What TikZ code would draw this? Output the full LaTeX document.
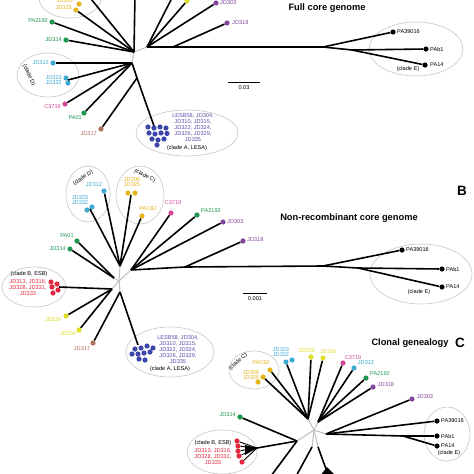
\documentclass[tikz,border=0pt]{standalone}
\usepackage{fontspec}
\setmainfont{Liberation Sans}
\definecolor{cgreen}{RGB}{30,150,80}
\definecolor{ccyan}{RGB}{60,170,210}
\definecolor{cgold}{RGB}{230,180,30}
\definecolor{clemon}{RGB}{222,222,40}
\definecolor{cpink}{RGB}{210,70,150}
\definecolor{cpurple}{RGB}{130,70,160}
\definecolor{cblue}{RGB}{60,70,170}
\definecolor{cbluet}{RGB}{90,80,170}
\definecolor{cred}{RGB}{225,40,60}
\definecolor{cbrown}{RGB}{175,110,95}
\begin{document}
\begin{tikzpicture}[x=1pt,y=-1pt,
 br/.style={line width=1.6pt,black},
 gr/.style={line width=1pt,black!25},
 dot/.style={circle,inner sep=0,minimum size=5.2pt},
 ell/.style={draw=black!22,line width=0.6pt},
 lab/.style={inner sep=0,font=\fontsize{5.6}{6}\selectfont},
 ttl/.style={inner sep=0,font=\fontsize{9.3}{10}\selectfont\bfseries},
 big/.style={inner sep=0,font=\fontsize{13.5}{14}\selectfont\bfseries},
]
\clip (0,0) rectangle (474,474);
\useasboundingbox (0,0) rectangle (474,474);
\fill[white] (0,0) rectangle (474,474);

%================ PANEL A ================
\draw[ell] (70,-2) ellipse [x radius=31,y radius=20];
\draw[ell] (48,75) ellipse [x radius=31,y radius=22];
\draw[ell] (187,133) ellipse [x radius=51,y radius=23];
\draw[ell] (416,49) ellipse [x radius=47,y radius=27];

\coordinate (a1) at (134,52);
\coordinate (a2) at (132,63);
\coordinate (a3) at (147,47);
\coordinate (a4) at (137,78);
\coordinate (aT1) at (135,-6);
\coordinate (aT2) at (87,-6);
\coordinate (aT3) at (174,-6);
\coordinate (aJ) at (173,47);
\coordinate (aE) at (323,47);
\coordinate (aE2) at (352,50);
\coordinate (aDm) at (68,80);
\coordinate (aA) at (154,126);

\node[dot,fill=cgold] (A-JD306) at (79,4) {};
\node[dot,fill=cgold] (A-JD325) at (76,10) {};
\node[dot,fill=cgreen] (A-PA2192) at (52,22) {};
\node[dot,fill=cgreen] (A-JD314) at (66,40) {};
\node[dot,fill=ccyan] (A-JD312) at (53,63) {};
\node[dot,fill=ccyan] (A-JD323) at (66,78) {};
\node[dot,fill=ccyan] (A-JD332) at (68,83) {};
\node[dot,fill=cpink] (A-C3719) at (65,104) {};
\node[dot,fill=cgreen] (A-PA01) at (84,113) {};
\node[dot,fill=cbrown] (A-JD317) at (101,129) {};
\node[dot,fill=clemon] (A-JD320) at (187,1) {};
\node[dot,fill=cpurple] (A-JD303) at (216,3) {};
\node[dot,fill=cpurple] (A-JD318) at (227,23) {};
\node[dot,fill=black] (A-PA39016) at (393,32) {};
\node[dot,fill=black] (A-PAb1) at (426,49) {};
\node[dot,fill=black] (A-PA14) at (425,65) {};

\draw[gr] (a1) -- (a2);
\draw[gr] (a1) -- (a3);
\draw[br] (a1) -- (aT1);
\draw[br] (a1) -- (aT2);
\draw[br] (A-JD325) -- (a1);
\draw[br] (A-PA2192) -- (a1);
\draw[br] (A-JD314) -- (a1);
\draw[br] (A-JD312) -- (a2);
\draw[br] (aDm) -- (a2);
\draw[br] (A-C3719) -- (a2);
\draw[br] (A-PA01) -- (a2);
\draw[br] (a2) -- (a4) -- (aA);
\draw[br] (A-JD317) -- (a4);
\draw[br] (a3) -- (aT3);
\draw[br] (a3) -- (A-JD320);
\draw[br] (a3) -- (A-JD303);
\draw[br] (a3) -- (aJ) -- (aE);
\draw[br] (aJ) -- (A-JD318);
\draw[br] (aE) -- (A-PA39016);
\draw[br] (aE) -- (aE2) -- (A-PAb1);
\draw[br] (aE2) -- (A-PA14);

\foreach \p/\q in {0/0,6/1,12/0,18/1,1/6,7/7,13/6,19/6.5,4/12,10/13,16/12,9/18}{
  \fill[cblue] (148+\p,127+\q) circle (2.6);}

\node[lab,text=cgold,anchor=east] (A-l306) at (73,1) {JD306};
\node[lab,text=cgold,anchor=east] (A-l325) at (72,8) {JD325};
\node[lab,text=cgreen,anchor=east] (A-l2192) at (48,21) {PA2192};
\node[lab,text=cgreen,anchor=east] (A-l314) at (62,40) {JD314};
\node[lab,text=ccyan,anchor=east] (A-l312) at (49,63) {JD312};
\node[lab,text=ccyan,anchor=east] (A-l323) at (62,78) {JD323};
\node[lab,text=ccyan,anchor=east] (A-l332) at (62,83) {JD332};
\node[lab,text=cpink,anchor=east] (A-l3719) at (61,107) {C3719};
\node[lab,text=cgreen,anchor=east] (A-l01) at (82,118) {PA01};
\node[lab,text=cbrown,anchor=east] (A-l317) at (97,134) {JD317};
\node[lab,text=cpurple,anchor=west] (A-l303) at (220,3) {JD303};
\node[lab,text=cpurple,anchor=west] (A-l318) at (232,23) {JD318};
\node[lab,anchor=west] (A-l39016) at (397,32) {PA39016};
\node[lab,anchor=west] (A-lPAb1) at (430,49) {PAb1};
\node[lab,anchor=west] (A-lPA14) at (430,65) {PA14};
\node[lab] (A-cE) at (408,69) {(clade E)};
\node[lab,rotate=-65] (A-cD) at (29,75) {(clade D)};
\node[lab,text=cbluet,align=center] (A-cAl) at (193,128) {LESB58, JD304,\\JD310, JD315,\\JD322, JD324,\\JD326, JD329,\\JD335};
\node[lab] (A-cA) at (187,148) {(clade A, LESA)};
\node[ttl] (A-t) at (327,8) {Full core genome};
\coordinate (sA1) at (228,82);
\coordinate (sA2) at (260,82);
\draw[line width=0.8pt] (sA1) -- (sA2);
\node[lab] (A-s) at (244,88) {0.03};

%================ PANEL B ================
\node[big] (B-lab) at (462,191) {B};
\node[ttl] (B-t) at (349,218) {Non-recombinant core genome};
\draw[ell] (88,194) ellipse [x radius=22,y radius=28];
\draw[ell] (140,195) ellipse [x radius=24,y radius=29];
\draw[ell] (34,287) ellipse [x radius=32,y radius=20];
\draw[ell] (170,352) ellipse [x radius=44,y radius=25];
\draw[ell] (421,274) ellipse [x radius=51,y radius=30];

\coordinate (b0) at (119,281);
\coordinate (b1) at (131,270);
\coordinate (b2) at (120,266);
\coordinate (b3) at (114,278);
\coordinate (b4) at (112,289);
\coordinate (b5) at (120,292);
\coordinate (bJ) at (185,267);
\coordinate (bE) at (323,266);
\coordinate (bE2) at (358,268);
\coordinate (bDm) at (90,209);
\coordinate (bCm) at (131,195);
\coordinate (bBm) at (59,287);
\coordinate (bA) at (138,345);

\node[dot,fill=ccyan] (B-JD312) at (104,191) {};
\node[dot,fill=ccyan] (B-JD323) at (87,210) {};
\node[dot,fill=ccyan] (B-JD332) at (92,207) {};
\node[dot,fill=cgold] (B-JD306) at (128,193) {};
\node[dot,fill=cgold] (B-JD325) at (135,193) {};
\node[dot,fill=cgold] (B-PAC82) at (142,216) {};
\node[dot,fill=cpink] (B-C3719) at (171,213) {};
\node[dot,fill=cgreen] (B-PA2192) at (197,215) {};
\node[dot,fill=cpurple] (B-JD303) at (223,222) {};
\node[dot,fill=cpurple] (B-JD318) at (243,241) {};
\node[dot,fill=cgreen] (B-PA01) at (77,241) {};
\node[dot,fill=cgreen] (B-JD314) at (70,249) {};
\node[dot,fill=clemon] (B-JD320) at (66,316) {};
\node[dot,fill=clemon] (B-JD334) at (79,330) {};
\node[dot,fill=cbrown] (B-JD317) at (93,343) {};
\node[dot,fill=black] (B-PA39016) at (402,250) {};
\node[dot,fill=black] (B-PAb1) at (442,269) {};
\node[dot,fill=black] (B-PA14) at (442,287) {};

\draw[gr] (b0) -- (b1);
\draw[gr] (b0) -- (b2);
\draw[gr] (b0) -- (b3);
\draw[gr] (b0) -- (b4);
\draw[gr] (b0) -- (b5);
\draw[br] (B-JD312) -- (b2);
\draw[br] (bDm) -- (b2);
\draw[br] (bCm) -- (b2);
\draw[br] (B-PAC82) -- (b2);
\draw[br] (B-C3719) -- (b1);
\draw[br] (B-PA2192) -- (b1);
\draw[br] (B-JD303) -- (b1);
\draw[br] (b1) -- (bJ) -- (bE);
\draw[br] (bJ) -- (B-JD318);
\draw[br] (bE) -- (B-PA39016);
\draw[br] (bE) -- (bE2) -- (B-PAb1);
\draw[br] (bE2) -- (B-PA14);
\draw[br] (B-PA01) -- (b3);
\draw[br] (B-JD314) -- (b3);
\draw[br] (bBm) -- (b4);
\draw[br] (B-JD320) -- (b4);
\draw[br] (B-JD334) -- (b4);
\draw[br] (B-JD317) -- (b5);
\draw[br] (bA) -- (b5);

\foreach \x/\y in {51/282,57/284,52/287,58/290,53/293}{\fill[cred] (\x,\y) circle (2.6);}
\foreach \x/\y in {135/349,141/348,147/346,153/348,132/354,138/354,144/353,150/352,139/359,145/360}{\fill[cblue] (\x,\y) circle (2.6);}

\node[lab,rotate=35] (B-cD) at (83,178) {(clade D)};
\node[lab,text=ccyan] (B-l312) at (94,185) {JD312};
\node[lab,text=ccyan] (B-l323) at (80,198) {JD323};
\node[lab,text=ccyan] (B-l332) at (80,203) {JD332};
\node[lab,rotate=-27] (B-cC) at (145,176) {(clade C)};
\node[lab,text=cgold] (B-l306) at (132,180) {JD306};
\node[lab,text=cgold] (B-l325) at (132,185) {JD325};
\node[lab,text=cgold] (B-l82) at (148,209) {PAC82};
\node[lab,text=cpink] (B-l3719) at (173,203) {C3719};
\node[lab,text=cgreen] (B-l2192) at (211,211) {PA2192};
\node[lab,text=cpurple,anchor=west] (B-l303) at (227,222) {JD303};
\node[lab,text=cpurple,anchor=west] (B-l318) at (247,240) {JD318};
\node[lab,text=cgreen] (B-l01) at (67,236) {PA01};
\node[lab,text=cgreen,anchor=east] (B-l314) at (66,249) {JD314};
\node[lab] (B-cB) at (29,274) {(clade B, ESB)};
\node[lab,text=cred,align=center] (B-cBl) at (28,287.5) {JD313, JD316,\\JD328, JD331,\\JD333};
\node[lab,text=clemon] (B-l320) at (53,320) {JD320};
\node[lab,text=clemon] (B-l334) at (68,334) {JD334};
\node[lab,text=cbrown] (B-l317) at (82,349) {JD317};
\node[lab,text=cbluet,align=center] (B-cAl) at (178,349.5) {LESB58, JD304,\\JD310, JD315,\\JD322, JD324,\\JD326, JD329,\\JD335};
\node[lab] (B-cA) at (170,369) {(clade A, LESA)};
\node[lab,anchor=west] (B-l39016) at (406,250) {PA39016};
\node[lab,anchor=west] (B-lPAb1) at (446,269) {PAb1};
\node[lab,anchor=west] (B-lPA14) at (446,287) {PA14};
\node[lab] (B-cE) at (419,292) {(clade E)};
\coordinate (sB1) at (243,293);
\coordinate (sB2) at (267,293);
\draw[line width=0.8pt] (sB1) -- (sB2);
\node[lab] (B-s) at (255,299) {0.001};

%================ PANEL C ================
\node[big] (C-lab) at (460,343) {C};
\node[ttl] (C-t) at (410,343) {Clonal genealogy};
\draw[ell] (254,370) ellipse [x radius=25,y radius=19];
\draw[ell] (447,434) ellipse [x radius=23,y radius=27];
\draw[ell] (222,452) ellipse [x radius=35,y radius=22];

\coordinate (c0) at (314,430);
\coordinate (c1) at (308,419);
\coordinate (c2) at (318,422);
\coordinate (c3) at (326,434);
\coordinate (c4) at (297,441);
\coordinate (c5) at (312,447);
\coordinate (c6) at (318,447);
\coordinate (cE2) at (403,436);
\coordinate (cF) at (257,448);
\coordinate (cD1) at (268,480);
\coordinate (cD2) at (294,480);
\coordinate (cD3) at (330,480);
\coordinate (cG) at (327,467);

\node[dot,fill=cgold] (C-PAC82) at (270,370) {};
\node[dot,fill=cgold] (C-JD306) at (263,377) {};
\node[dot,fill=cgold] (C-JD325) at (258,382) {};
\node[dot,fill=ccyan] (C-JD323) at (286,362) {};
\node[dot,fill=ccyan] (C-JD332) at (292,360) {};
\node[dot,fill=clemon] (C-JD320) at (311,357) {};
\node[dot,fill=clemon] (C-JD334) at (323,358) {};
\node[dot,fill=cpink] (C-C3719) at (343,363) {};
\node[dot,fill=ccyan] (C-JD312) at (354,368) {};
\node[dot,fill=cgreen] (C-PA2192) at (366,378) {};
\node[dot,fill=cpurple] (C-JD318) at (373,387) {};
\node[dot,fill=cpurple] (C-JD303) at (412,399) {};
\node[dot,fill=black] (C-PA39016) at (437,421) {};
\node[dot,fill=black] (C-PAb1) at (437,436) {};
\node[dot,fill=black] (C-PA14) at (437,446) {};
\node[dot,fill=cgreen] (C-JD314) at (240,417) {};
\node[dot,fill=cred] (C-B1) at (237,441) {};
\node[dot,fill=cred] (C-B2) at (238,446) {};
\node[dot,fill=cred] (C-B3) at (238,451) {};
\node[dot,fill=cred] (C-B4) at (239,456) {};
\node[dot,fill=cred] (C-B5) at (242,462) {};

\draw[gr] (c0) -- (c1);
\draw[gr] (c0) -- (c2);
\draw[gr] (c0) -- (c3);
\draw[gr] (c0) -- (c4);
\draw[gr] (c0) -- (c5);
\draw[gr] (c0) -- (c6);
\draw[br] (C-PAC82) -- (c1);
\draw[br] (C-JD306) -- (c1);
\draw[br] (C-JD323) -- (c1);
\draw[br] (C-JD320) -- (c1);
\draw[br] (C-JD334) -- (c1);
\draw[br] (C-C3719) -- (c2);
\draw[br] (C-JD312) -- (c2);
\draw[br] (C-PA2192) -- (c2);
\draw[br] (C-JD318) -- (c2);
\draw[br] (C-JD303) -- (c3);
\draw[br] (c3) -- (C-PA39016);
\draw[br] (c3) -- (cE2) -- (C-PAb1);
\draw[br] (cE2) -- (C-PA14);
\draw[br] (C-JD314) -- (c4);
\draw[br] (cF) -- (c4);
\foreach \n in {C-B1,C-B2,C-B3,C-B4,C-B5}{\draw[line width=0.9pt] (\n) -- (cF);}
\fill (cF) -- (245,445) -- (245,455) -- cycle;
\draw[br] (c4) -- (cD1);
\draw[br] (c5) -- (cD2);
\draw[br] (c6) -- (cD3);
\fill (cG) -- (320,476) -- (336,476) -- cycle;

\node[lab,rotate=42] (C-cC) at (238,362) {(clade C)};
\node[lab,text=cgold] (C-l82) at (261,363) {PAC82};
\node[lab,text=cgold] (C-l306) at (251,373) {JD306};
\node[lab,text=cgold] (C-l325) at (251,378) {JD325};
\node[lab,text=ccyan] (C-l323) at (281,350) {JD323};
\node[lab,text=ccyan] (C-l332) at (281,355) {JD332};
\node[lab,text=clemon] (C-l320) at (307,351) {JD320};
\node[lab,text=clemon] (C-l334) at (328,352) {JD334};
\node[lab,text=cpink] (C-l3719) at (353,358) {C3719};
\node[lab,text=ccyan] (C-l312) at (366,363) {JD312};
\node[lab,text=cgreen] (C-l2192) at (380,374) {PA2192};
\node[lab,text=cpurple] (C-l318) at (386,385) {JD318};
\node[lab,text=cpurple] (C-l303) at (425,397) {JD303};
\node[lab,anchor=west] (C-l39016) at (441,421) {PA39016};
\node[lab,anchor=west] (C-lPAb1) at (441,436) {PAb1};
\node[lab,anchor=west] (C-lPA14) at (441,446) {PA14};
\node[lab] (C-cE) at (449,453) {(clade E)};
\node[lab,text=cgreen,anchor=east] (C-l314) at (236,415) {JD314};
\node[lab] (C-cB) at (213,443) {(clade B, ESB)};
\node[lab,text=cred,align=center] (C-cBl) at (213,456.5) {JD313, JD316,\\JD328, JD331,\\JD333};
\end{tikzpicture}
\end{document}
